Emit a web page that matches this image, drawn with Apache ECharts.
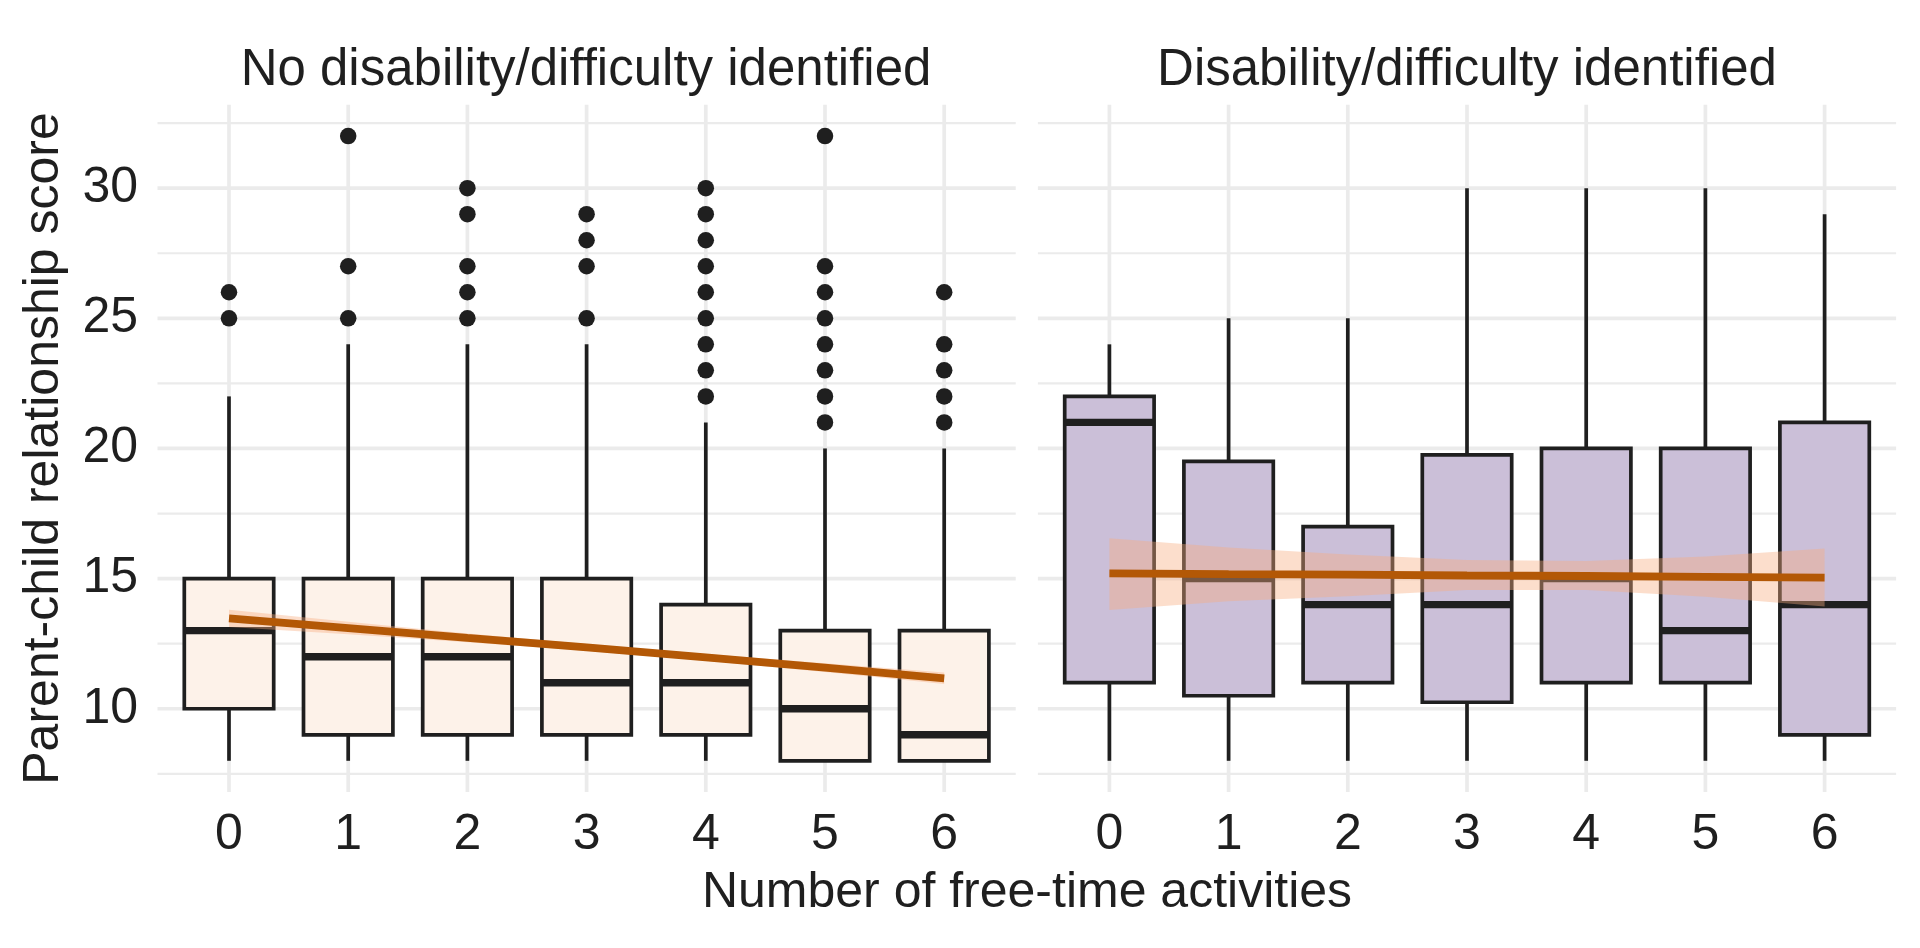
<!DOCTYPE html>
<html>
<head>
<meta charset="utf-8">
<script src="https://cdn.jsdelivr.net/npm/echarts@6/dist/echarts.min.js"></script>
<style>
  html, body { margin: 0; padding: 0; background: #ffffff; }
  #chart { width: 1920px; height: 948px; }
</style>
</head>
<body>
<div id="chart"></div>
<script>
// ---------- data ----------
const activities = [0, 1, 2, 3, 4, 5, 6];
const panelTitles = ['No disability/difficulty identified', 'Disability/difficulty identified'];
const xAxisTitle = 'Number of free-time activities';
const yAxisTitle = 'Parent-child relationship score';
const yMajorTicks = [10, 15, 20, 25, 30];
const yMinorTicks = [7.5, 12.5, 17.5, 22.5, 27.5, 32.5];

// [min whisker, Q1, median, Q3, max whisker]
const noDisBox = [
  [8, 10, 13, 15, 22],
  [8, 9, 12, 15, 24],
  [8, 9, 12, 15, 24],
  [8, 9, 11, 15, 24],
  [8, 9, 11, 14, 21],
  [8, 8, 10, 13, 20],
  [8, 8, 9, 13, 20]
];
const disBox = [
  [8, 11, 21, 22, 24],
  [8, 10.5, 15, 19.5, 25],
  [8, 11, 14, 17, 25],
  [8, 10.25, 14, 19.75, 30],
  [8, 11, 15, 20, 30],
  [8, 11, 13, 20, 30],
  [8, 9, 14, 21, 29]
];
const noDisOutliers = [
  [25, 26],
  [25, 27, 32],
  [25, 26, 27, 29, 30],
  [25, 27, 28, 29],
  [22, 23, 24, 25, 26, 27, 28, 29, 30],
  [21, 22, 23, 24, 25, 26, 27, 32],
  [21, 22, 23, 24, 26]
];
const disOutliers = [[], [], [], [], [], [], []];

// linear fit and confidence band
const noDisFit   = [13.47, 13.1, 12.72, 12.36, 11.97, 11.58, 11.17];
const noDisLower = [13.14, 12.86, 12.55, 12.23, 11.84, 11.41, 10.95];
const noDisUpper = [13.80, 13.34, 12.89, 12.49, 12.10, 11.75, 11.39];
const disFit   = [15.2, 15.17, 15.15, 15.12, 15.1, 15.07, 15.04];
const disLower = [13.79, 14.13, 14.32, 14.56, 14.56, 14.3, 13.93];
const disUpper = [16.55, 16.19, 15.93, 15.71, 15.68, 15.85, 16.16];

// ---------- styles ----------
const FONT = "'Liberation Sans', Arial, sans-serif";
const TEXT_COLOR = '#1f1f1f';
const FS = 50;
const FS_STRIP = 51;
const INK = '#1f1f1f';
const GRID_COLOR = '#ebebeb';
const BOX_HALF = 0.375;
const X_LO = -0.6, X_HI = 6.6, Y_LO = 6.8, Y_HI = 33.2;

const UX = 119.2;
const UY = 26.03;
const Y10 = 708.75;
const gridTop = Y10 - 25 * UY;
const gridHeight = 30 * UY;
const panelX0 = [229, 1109.4];

function gridLineData() {
  const d = [];
  yMinorTicks.forEach(v => d.push([1, v]));
  yMajorTicks.forEach(v => d.push([0, v]));
  activities.forEach(v => d.push([2, v]));
  return d;
}
function renderGridLine(params, api) {
  const kind = api.value(0), v = api.value(1);
  let p1, p2;
  if (kind === 2) { p1 = api.coord([v, Y_LO]); p2 = api.coord([v, Y_HI]); }
  else { p1 = api.coord([X_LO, v]); p2 = api.coord([X_HI, v]); }
  return {
    type: 'line',
    shape: { x1: p1[0], y1: p1[1], x2: p2[0], y2: p2[1] },
    style: { stroke: GRID_COLOR, lineWidth: kind === 1 ? 2.2 : 3.7 }
  };
}
function makeBoxRenderer(fill) {
  return function (params, api) {
    const x = api.value(0), mn = api.value(1), q1 = api.value(2), md = api.value(3), q3 = api.value(4), mx = api.value(5);
    const pMin = api.coord([x, mn]), pQ1 = api.coord([x, q1]), pQ3 = api.coord([x, q3]), pMax = api.coord([x, mx]);
    const tl = api.coord([x - BOX_HALF, q3]), br = api.coord([x + BOX_HALF, q1]);
    const ml = api.coord([x - BOX_HALF, md]), mr = api.coord([x + BOX_HALF, md]);
    const children = [];
    if (mx > q3) children.push({ type: 'line', shape: { x1: pQ3[0], y1: pQ3[1], x2: pMax[0], y2: pMax[1] }, style: { stroke: INK, lineWidth: 3.7 } });
    if (mn < q1) children.push({ type: 'line', shape: { x1: pMin[0], y1: pMin[1], x2: pQ1[0], y2: pQ1[1] }, style: { stroke: INK, lineWidth: 3.7 } });
    children.push({ type: 'rect', shape: { x: tl[0], y: tl[1], width: br[0] - tl[0], height: br[1] - tl[1] }, style: { fill: fill, stroke: INK, lineWidth: 3.7 } });
    children.push({ type: 'line', shape: { x1: ml[0], y1: ml[1], x2: mr[0], y2: mr[1] }, style: { stroke: INK, lineWidth: 7.4 } });
    return { type: 'group', children: children };
  };
}
function makeBandRenderer(lower, upper) {
  return function (params, api) {
    const pts = [];
    activities.forEach((x, i) => pts.push(api.coord([x, upper[i]])));
    for (let i = activities.length - 1; i >= 0; i--) pts.push(api.coord([activities[i], lower[i]]));
    return { type: 'polygon', shape: { points: pts }, style: { fill: 'rgba(247,172,128,0.4)' } };
  };
}

const boxSets = [noDisBox, disBox];
const outlierSets = [noDisOutliers, disOutliers];
const fitSets = [noDisFit, disFit];
const lowerSets = [noDisLower, disLower];
const upperSets = [noDisUpper, disUpper];
const fills = ['#fdf2e9', '#cbbfd8'];

const grids = [], xAxes = [], yAxes = [], series = [];
for (let p = 0; p < 2; p++) {
  grids.push({ left: panelX0[p] - UX, width: 8 * UX, top: gridTop, height: gridHeight, outerBoundsMode: 'none', containLabel: false });
  xAxes.push({
    type: 'value', gridIndex: p, min: -1, max: 7, interval: 1,
    axisLine: { show: false }, axisTick: { show: false }, splitLine: { show: false },
    axisLabel: {
      margin: -28.5, fontSize: FS, color: TEXT_COLOR, fontFamily: FONT,
      formatter: v => (v < 0 || v > 6) ? '' : String(v)
    }
  });
  yAxes.push({
    type: 'value', gridIndex: p, min: 5, max: 35, interval: 5,
    axisLine: { show: false }, axisTick: { show: false }, splitLine: { show: false },
    axisLabel: {
      show: p === 0, margin: -28.2, fontSize: FS, color: TEXT_COLOR, fontFamily: FONT,
      padding: [10, 0, 0, 0],
      formatter: v => (v < 10 || v > 30) ? '' : String(v)
    },
    name: p === 0 ? yAxisTitle : '', nameLocation: 'middle', nameRotate: 90, nameGap: 40.3,
    nameTextStyle: { fontSize: FS, color: TEXT_COLOR, fontFamily: FONT, lineHeight: FS }
  });
  series.push({
    type: 'custom', xAxisIndex: p, yAxisIndex: p, z: 1, silent: true,
    renderItem: renderGridLine, data: gridLineData()
  });
  series.push({
    type: 'custom', xAxisIndex: p, yAxisIndex: p, z: 2, silent: true,
    renderItem: makeBoxRenderer(fills[p]),
    encode: { x: 0, y: [1, 2, 3, 4, 5] },
    data: activities.map((x, i) => [x].concat(boxSets[p][i]))
  });
  const outPts = [];
  activities.forEach((x, i) => outlierSets[p][i].forEach(v => outPts.push([x, v])));
  series.push({
    type: 'scatter', xAxisIndex: p, yAxisIndex: p, z: 3, silent: true,
    symbol: 'circle', symbolSize: 16.5, itemStyle: { color: INK, opacity: 1 },
    data: outPts
  });
  series.push({
    type: 'custom', xAxisIndex: p, yAxisIndex: p, z: 4, silent: true,
    renderItem: makeBandRenderer(lowerSets[p], upperSets[p]),
    data: [[3, fitSets[p][3]]]
  });
  series.push({
    type: 'line', xAxisIndex: p, yAxisIndex: p, z: 5, silent: true,
    showSymbol: false, symbol: 'none',
    lineStyle: { color: '#b35806', width: 7.8, cap: 'butt' },
    data: activities.map((x, i) => [x, fitSets[p][i]])
  });
}

const titleStyle = { fontSize: FS, fontWeight: 'normal', color: TEXT_COLOR, fontFamily: FONT, lineHeight: FS };
const stripStyle = { fontSize: FS_STRIP, fontWeight: 'normal', color: TEXT_COLOR, fontFamily: FONT, lineHeight: FS_STRIP };
const option = {
  animation: false,
  backgroundColor: '#ffffff',
  title: [
    { text: panelTitles[0], left: 586, top: 45, textAlign: 'center', padding: 0, textStyle: stripStyle },
    { text: panelTitles[1], left: 1467, top: 45, textAlign: 'center', padding: 0, textStyle: stripStyle },
    { text: xAxisTitle, left: 1027, top: 868.4, textAlign: 'center', padding: 0, textStyle: titleStyle }
  ],
  grid: grids,
  xAxis: xAxes,
  yAxis: yAxes,
  series: series
};

const chart = echarts.init(document.getElementById('chart'), null, { renderer: 'canvas' });
chart.setOption(option);
</script>
</body>
</html>
